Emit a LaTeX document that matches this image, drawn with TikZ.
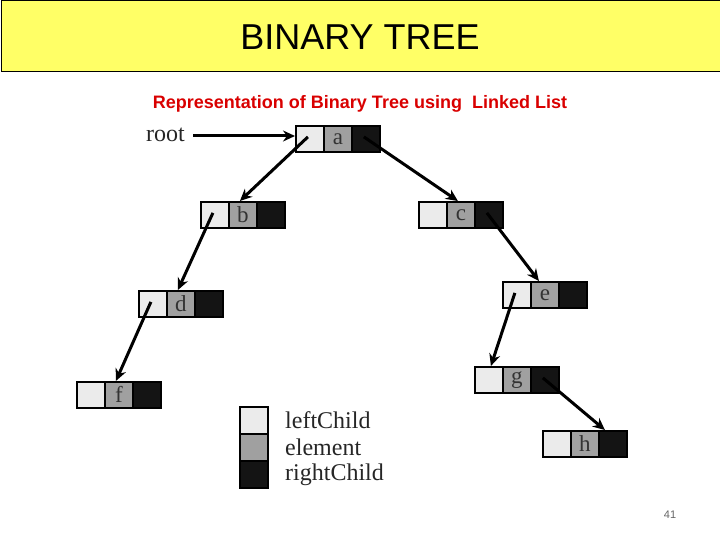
\documentclass[tikz,border=0pt]{standalone}
\usepackage{fontspec}
\setmainfont{Liberation Serif}
\newfontfamily\arial{Liberation Sans}
\usetikzlibrary{arrows.meta}
\definecolor{lc}{HTML}{EBEBEB}
\definecolor{ec}{HTML}{A0A0A0}
\definecolor{rc}{HTML}{141414}
\definecolor{ttl}{HTML}{FFFF66}
\tikzset{cell/.style={draw=black,line width=1.8pt,minimum width=28pt,minimum height=26pt,inner sep=0pt,anchor=north west,font=\fontsize{23}{24}\selectfont,text=black!80},
lcell/.style={cell,fill=lc},ecell/.style={cell,fill=ec},rcell/.style={cell,fill=rc},
ptr/.style={line width=3pt,-{Stealth[length=12pt,width=11pt]}},
lab/.style={anchor=west,font=\fontsize{24}{25}\selectfont,text=black!85,inner sep=0pt}}
\newcommand{\tnode}[4]{%
\node[lcell] (#1L) at (#2,#3) {};
\node[ecell] (#1E) at (#2+28,#3) {#4};
\node[rcell] (#1R) at (#2+56,#3) {};}
\begin{document}
\begin{tikzpicture}[x=1pt,y=-1pt]
\useasboundingbox (0,0) rectangle (720,540);
\node[draw=black,line width=1pt,fill=ttl,minimum width=719pt,minimum height=71pt,anchor=north west,inner sep=0pt] (title) at (0.5,0.5) {};
\node[font=\arial\fontsize{36}{38}\selectfont] (tt) at (360,37) {BINARY TREE};
\node[font=\arial\bfseries\fontsize{18}{20}\selectfont,text=red!85!black] (sub) at (360,104) {Representation of Binary Tree using\ \ Linked List};
\node[font=\arial\fontsize{11}{12}\selectfont,text=black!60] (pg) at (670,515) {41};
\tnode{a}{295}{125}{a}
\tnode{b}{200}{201}{b}
\tnode{c}{418}{201}{c}
\tnode{d}{138}{290}{d}
\tnode{e}{502}{281}{e}
\tnode{f}{76}{381}{f}
\tnode{g}{474}{366}{g}
\tnode{h}{542}{430}{h}
\node[lab] (root) at (146,135) {root};
\draw[ptr] (root.east) ++(8,1) coordinate (r0) -- (aL.west |- r0);
\draw[ptr] ([xshift=-2pt,yshift=2pt]aL.center) -- ([xshift=-3pt]bE.north);
\draw[ptr] ([xshift=-2pt,yshift=2pt]aR.center) -- ([xshift=-3pt]cE.north);
\draw[ptr] ([xshift=-2pt,yshift=2pt]bL.center) -- ([xshift=-3pt]dE.north);
\draw[ptr] ([xshift=-2pt,yshift=2pt]cR.center) -- ([xshift=-6pt]eE.north);
\draw[ptr] ([xshift=-2pt,yshift=2pt]dL.center) -- ([xshift=-3pt]fE.north);
\draw[ptr] ([xshift=-2pt,yshift=2pt]eL.center) -- ([xshift=2pt]gL.north);
\draw[ptr] ([xshift=-2pt,yshift=2pt]gR.center) -- ([xshift=-8pt]hR.north);
\node[lcell,minimum height=27pt] (k1) at (239,406) {};
\node[ecell,minimum height=27pt] (k2) at (239,433) {};
\node[rcell,minimum height=27pt] (k3) at (239,460) {};
\node[lab] (t1) at (285,420) {leftChild};
\node[lab] (t2) at (285,447) {element};
\node[lab] (t3) at (285,475) {rightChild};
\end{tikzpicture}
\end{document}
